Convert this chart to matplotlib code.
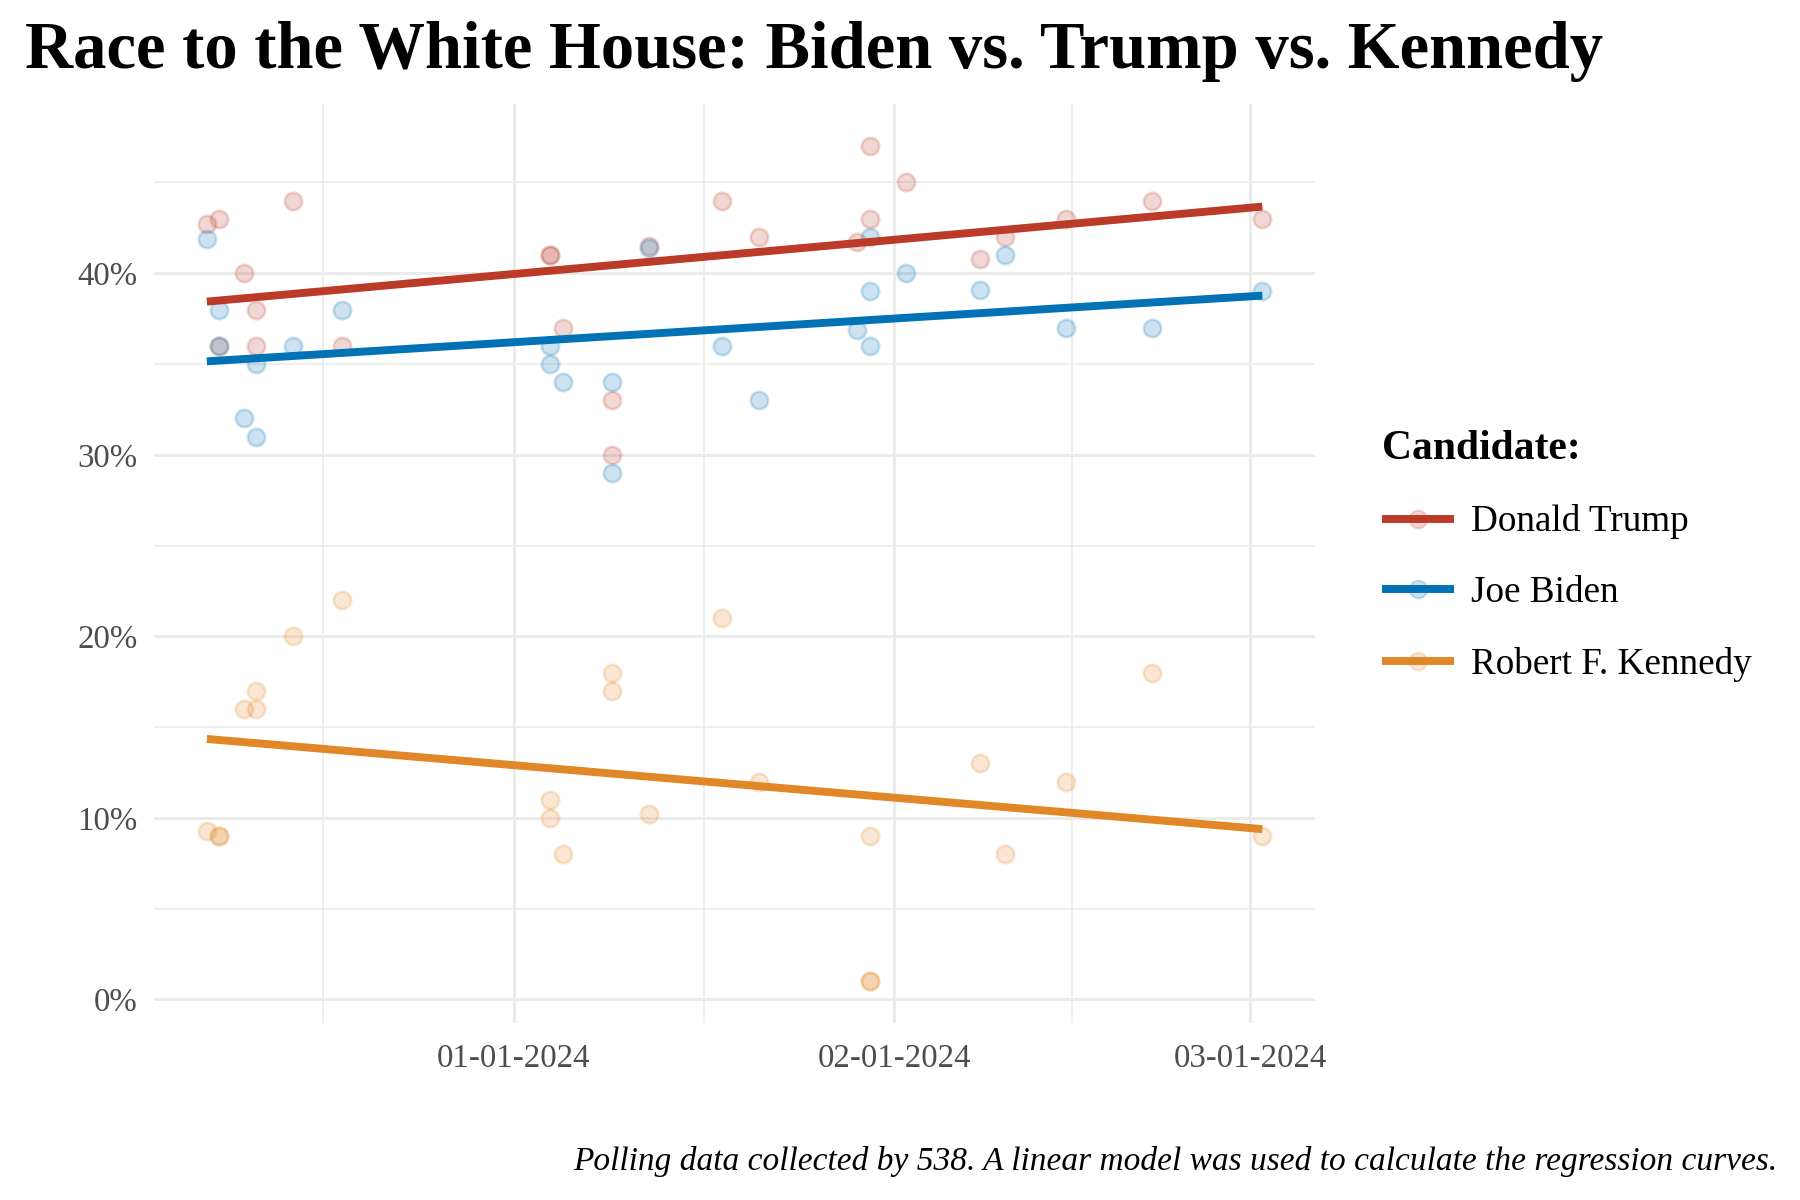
import matplotlib
matplotlib.use("Agg")
import matplotlib.pyplot as plt
import matplotlib.dates as mdates
from matplotlib.lines import Line2D
from matplotlib.ticker import FixedLocator, FuncFormatter
import numpy as np
import pandas as pd

plt.rcParams['font.family'] = ['Liberation Serif', 'DejaVu Serif']

# polls (date, percent)
trump_dates = ['2023-12-07', '2023-12-08', '2023-12-08', '2023-12-10', '2023-12-11', '2023-12-11',
               '2023-12-14', '2023-12-18', '2024-01-04', '2024-01-04', '2024-01-05', '2024-01-09',
               '2024-01-09', '2024-01-12', '2024-01-18', '2024-01-21', '2024-01-29', '2024-01-30',
               '2024-01-30', '2024-02-02', '2024-02-08', '2024-02-10', '2024-02-15', '2024-02-22',
               '2024-03-02']
trump_vals = [42.7, 43, 36, 40, 38, 36,
              44, 36, 41, 41, 37, 33,
              30, 41.5, 44, 42, 41.7, 47,
              43, 45, 40.8, 42, 43, 44,
              43]

biden_dates = ['2023-12-07', '2023-12-08', '2023-12-08', '2023-12-10', '2023-12-11', '2023-12-11',
               '2023-12-14', '2023-12-18', '2024-01-04', '2024-01-04', '2024-01-05', '2024-01-09',
               '2024-01-09', '2024-01-12', '2024-01-18', '2024-01-21', '2024-01-29', '2024-01-30',
               '2024-01-30', '2024-01-30', '2024-02-02', '2024-02-08', '2024-02-10', '2024-02-15',
               '2024-02-22', '2024-03-02']
biden_vals = [41.9, 38, 36, 32, 35, 31,
              36, 38, 36, 35, 34, 34,
              29, 41.4, 36, 33, 36.9, 42,
              39, 36, 40, 39.1, 41, 37,
              37, 39]

kennedy_dates = ['2023-12-07', '2023-12-08', '2023-12-08', '2023-12-10', '2023-12-11', '2023-12-11',
                 '2023-12-14', '2023-12-18', '2024-01-04', '2024-01-04', '2024-01-05', '2024-01-09',
                 '2024-01-09', '2024-01-12', '2024-01-18', '2024-01-21', '2024-01-30', '2024-01-30',
                 '2024-01-30', '2024-02-08', '2024-02-10', '2024-02-15', '2024-02-22', '2024-03-02']
kennedy_vals = [9.3, 9, 9, 16, 17, 16,
                20, 22, 11, 10, 8, 18,
                17, 10.2, 21, 12, 9, 1,
                1, 13, 8, 12, 18, 9]

candidates = ['Donald Trump', 'Joe Biden', 'Robert F. Kennedy']
colors = ['#BC3B28', '#0072B5', '#E18727']
series = [(trump_dates, trump_vals), (biden_dates, biden_vals), (kennedy_dates, kennedy_vals)]

fig = plt.figure(figsize=(12, 8), dpi=150)
ax = fig.add_axes([0.0856, 0.1475, 0.645, 0.7655])

handles = []
for (d, v), name, col in zip(series, candidates, colors):
    x = mdates.date2num(pd.to_datetime(d))
    v = np.array(v)
    ax.scatter(x, v, s=70, facecolor=col, edgecolor=col, linewidths=1.3, alpha=0.2, zorder=3)
    # linear model
    b, a = np.polyfit(x, v, 1)
    xs = np.array([x.min(), x.max()])
    ax.plot(xs, a + b * xs, color=col, lw=3.8, solid_capstyle='butt', zorder=4)
    h_pt = Line2D([], [], marker='o', ls='none', ms=8.5, markerfacecolor=col,
                  markeredgecolor=col, alpha=0.2)
    h_ln = Line2D([], [], color=col, lw=3.8, solid_capstyle='butt')
    handles.append((h_pt, h_ln))

# axes styling
ax.margins(x=0.05, y=0.05)
ax.set_ylim(-1.3, 49.3)
ax.yaxis.set_major_locator(FixedLocator([0, 10, 20, 30, 40]))
ax.yaxis.set_minor_locator(FixedLocator([5, 15, 25, 35, 45]))
ax.yaxis.set_major_formatter(FuncFormatter(lambda y, p: f'{y:.0f}%'))

ax.xaxis.set_major_locator(mdates.MonthLocator())
ax.xaxis.set_major_formatter(mdates.DateFormatter('%m-%d-%Y'))
month_starts = mdates.date2num(pd.date_range('2023-11-01', '2024-04-01', freq='MS'))
ax.xaxis.set_minor_locator(FixedLocator((month_starts[:-1] + month_starts[1:]) / 2))

for s in ax.spines.values():
    s.set_visible(False)
ax.grid(which='major', color='#EBEBEB', lw=1.4)
ax.grid(which='minor', color='#EBEBEB', lw=0.8)
ax.set_axisbelow(True)
ax.tick_params(which='both', length=0, labelsize=15.8, labelcolor='#4D4D4D')
ax.tick_params(axis='x', pad=10)
ax.tick_params(axis='y', pad=8)

fig.text(0.014, 0.943, 'Race to the White House: Biden vs. Trump vs. Kennedy',
         fontsize=32, fontweight='bold', ha='left', va='baseline')

leg = fig.legend(handles, candidates, loc='upper left', bbox_to_anchor=(0.7575, 0.657),
                 frameon=False, fontsize=17.8, title='Candidate:',
                 title_fontproperties={'weight': 'bold', 'size': 20},
                 handlelength=1.95, handletextpad=0.45, labelspacing=0.98, borderpad=0)
leg._legend_box.align = 'left'

fig.text(0.9875, 0.025, 'Polling data collected by 538. A linear model was used to calculate the regression curves.',
         fontsize=16, style='italic', ha='right', va='baseline')

fig.savefig('out.png', dpi=150)
